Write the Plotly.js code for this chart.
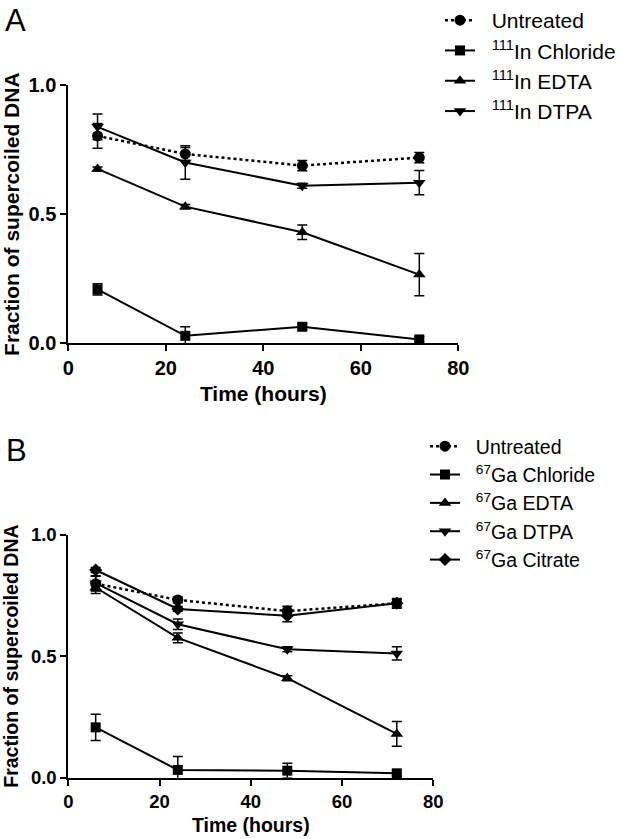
<!DOCTYPE html>
<html>
<head>
<meta charset="utf-8">
<script src="https://cdn.plot.ly/plotly-3.0.1.min.js"></script>
<style>html,body{margin:0;padding:0;background:#fff;}#chart{width:621px;height:839px;}</style>
</head>
<body>
<div id="chart"></div>
<script>
// Shared time points (hours)
const timeHours = [6, 24, 48, 72];

// Panel A (111In)
const namesA = ["Untreated", "<sup>111</sup>In Chloride", "<sup>111</sup>In EDTA", "<sup>111</sup>In DTPA"];
const untreatedA = [0.803, 0.733, 0.688, 0.719];
const untreatedA_err = [0.048, 0.025, 0.02, 0.02];
const chlorideA = [0.209, 0.029, 0.064, 0.015];
const chlorideA_err = [0.022, 0.035, 0.012, 0.01];
const edtaA = [0.675, 0.529, 0.43, 0.266];
const edtaA_err = [0.008, 0.008, 0.028, 0.082];
const dtpaA = [0.838, 0.70, 0.61, 0.622];
const dtpaA_err = [0.05, 0.065, 0.01, 0.047];

// Panel B (67Ga)
const namesB = ["Untreated", "<sup>67</sup>Ga Chloride", "<sup>67</sup>Ga EDTA", "<sup>67</sup>Ga DTPA", "<sup>67</sup>Ga Citrate"];
const untreatedB = [0.798, 0.731, 0.685, 0.717];
const untreatedB_err = [0.03, 0.012, 0.02, 0.02];
const chlorideB = [0.207, 0.032, 0.029, 0.018];
const chlorideB_err = [0.054, 0.055, 0.03, 0.01];
const edtaB = [0.782, 0.575, 0.409, 0.18];
const edtaB_err = [0.025, 0.02, 0.01, 0.051];
const dtpaB = [0.80, 0.631, 0.528, 0.511];
const dtpaB_err = [0.03, 0.022, 0.01, 0.027];
const citrateB = [0.854, 0.694, 0.666, 0.717];
const citrateB_err = [0.01, 0.01, 0.025, 0.015];

const symbols = ["circle", "square", "triangle-up", "triangle-down", "diamond"];
const msize = [11, 10, 11, 11, 10];
const gap = "\u00a0\u00a0";

function mk(y, err, i, name, xa, ya, leg) {
  return {
    x: timeHours, y: y, name: gap + name, type: "scatter", mode: "lines+markers",
    xaxis: xa, yaxis: ya, legend: leg, cliponaxis: false,
    line: {color: "#000", width: i === 0 ? 2.5 : 2, dash: i === 0 ? "dot" : "solid"},
    marker: {color: "#000", symbol: symbols[i], size: msize[i]},
    error_y: {type: "data", array: err, visible: true, color: "#000", thickness: 1.5, width: 5}
  };
}

const traces = [
  mk(untreatedA, untreatedA_err, 0, namesA[0], "x", "y", "legend"),
  mk(chlorideA, chlorideA_err, 1, namesA[1], "x", "y", "legend"),
  mk(edtaA, edtaA_err, 2, namesA[2], "x", "y", "legend"),
  mk(dtpaA, dtpaA_err, 3, namesA[3], "x", "y", "legend"),
  mk(untreatedB, untreatedB_err, 0, namesB[0], "x2", "y2", "legend2"),
  mk(chlorideB, chlorideB_err, 1, namesB[1], "x2", "y2", "legend2"),
  mk(edtaB, edtaB_err, 2, namesB[2], "x2", "y2", "legend2"),
  mk(dtpaB, dtpaB_err, 3, namesB[3], "x2", "y2", "legend2"),
  mk(citrateB, citrateB_err, 4, namesB[4], "x2", "y2", "legend2")
];

const fam = "Liberation Sans, Arial, sans-serif";
function xax(domain, anchor, fs, tfs, standoff) {
  return {
    domain: domain, anchor: anchor, range: [0, 80], dtick: 20, tick0: 0,
    showline: true, linecolor: "#000", linewidth: 2, mirror: false,
    ticks: "outside", ticklen: 6, tickwidth: 2, tickcolor: "#000",
    showgrid: false, zeroline: false, fixedrange: true,
    tickfont: {family: fam, size: fs, color: "#000", weight: "bold"},
    title: {text: "Time (hours)", standoff: standoff, font: {family: fam, size: tfs, color: "#000", weight: "bold"}}
  };
}
function yax(domain, anchor, fs, tfs, standoff) {
  return {
    domain: domain, anchor: anchor, range: [0, 1], dtick: 0.5, tick0: 0, tickformat: ".1f",
    showline: true, linecolor: "#000", linewidth: 2, mirror: false,
    ticks: "outside", ticklen: 6, tickwidth: 2, tickcolor: "#000",
    showgrid: false, zeroline: false, fixedrange: true,
    tickfont: {family: fam, size: fs, color: "#000", weight: "bold"},
    title: {text: "Fraction of supercoiled DNA", standoff: standoff, font: {family: fam, size: tfs, color: "#000", weight: "bold"}}
  };
}

const layout = {
  width: 621, height: 839,
  margin: {l: 0, r: 0, t: 0, b: 0},
  paper_bgcolor: "#fff", plot_bgcolor: "#fff",
  showlegend: true,
  xaxis: xax([68.3/621, 458.3/621], "y", 20, 21, 8),
  yaxis: yax([(839-343.3)/839, (839-85)/839], "x", 20, 21, 8),
  xaxis2: xax([68.3/621, 433.3/621], "y2", 18.5, 19.5, 7),
  yaxis2: yax([(839-777.7)/839, (839-534.5)/839], "x2", 18.5, 19.5, 8),
  legend: {x: 440/621, y: 1, xanchor: "left", yanchor: "top", bgcolor: "rgba(0,0,0,0)",
           font: {family: fam, size: 21, color: "#000"}, tracegroupgap: 0, itemwidth: 30},
  legend2: {x: 425/621, y: (839-427)/839, xanchor: "left", yanchor: "top", bgcolor: "rgba(0,0,0,0)",
           font: {family: fam, size: 19.5, color: "#000"}, tracegroupgap: 0, itemwidth: 30},
  annotations: [
    {text: "A", xref: "paper", yref: "paper", x: 3/621, y: 1 - 1/839, xanchor: "left", yanchor: "top",
     showarrow: false, font: {family: fam, size: 31, color: "#000"}},
    {text: "B", xref: "paper", yref: "paper", x: 4/621, y: (839-431)/839, xanchor: "left", yanchor: "top",
     showarrow: false, font: {family: fam, size: 31, color: "#000"}}
  ]
};

Plotly.newPlot("chart", traces, layout, {displayModeBar: false, staticPlot: true});
</script>
</body>
</html>
